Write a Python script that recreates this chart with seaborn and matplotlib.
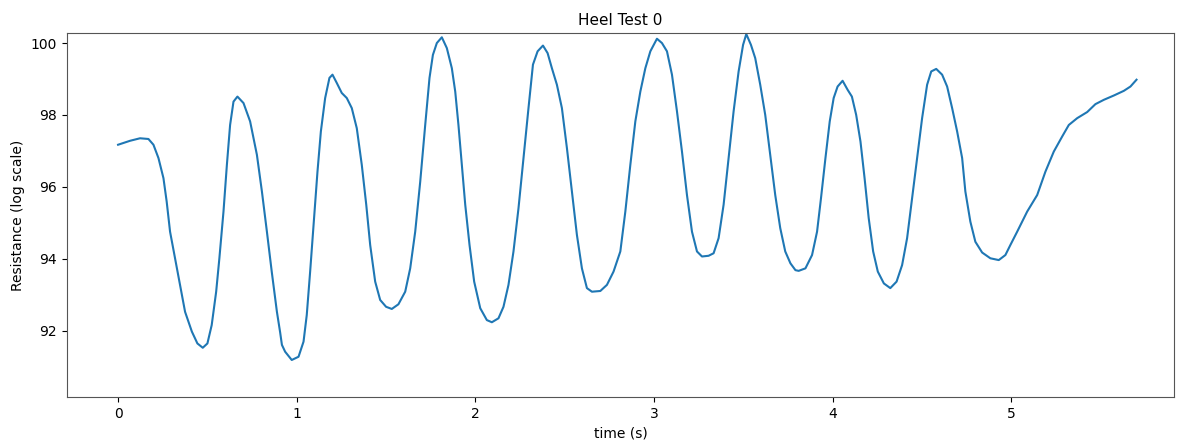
import matplotlib
matplotlib.use("Agg")
import matplotlib.pyplot as plt
import seaborn as sns
import pandas as pd

title = "Heel Test 0"
x_label = "time (s)"
y_label = "Resistance (log scale)"

time_s = [
    0.000, 0.067, 0.123, 0.170, 0.198, 0.226, 0.254, 0.272, 0.291, 0.319,
    0.347, 0.375, 0.413, 0.444, 0.474, 0.500, 0.524, 0.549, 0.567, 0.590,
    0.609, 0.627, 0.646, 0.668, 0.702, 0.739, 0.777, 0.805, 0.833, 0.860,
    0.889, 0.907, 0.917, 0.935, 0.972, 1.010, 1.038, 1.056, 1.075, 1.094,
    1.116, 1.135, 1.159, 1.183, 1.200, 1.224, 1.252, 1.280, 1.308, 1.336,
    1.364, 1.389, 1.411, 1.439, 1.467, 1.500, 1.532, 1.569, 1.607, 1.635,
    1.663, 1.691, 1.719, 1.743, 1.762, 1.784, 1.812, 1.840, 1.868, 1.887,
    1.905, 1.924, 1.943, 1.967, 1.993, 2.027, 2.064, 2.092, 2.129, 2.157,
    2.185, 2.213, 2.241, 2.269, 2.297, 2.322, 2.348, 2.378, 2.404, 2.428,
    2.456, 2.484, 2.512, 2.540, 2.568, 2.596, 2.624, 2.652, 2.699, 2.736,
    2.773, 2.811, 2.839, 2.867, 2.895, 2.923, 2.951, 2.979, 3.016, 3.044,
    3.072, 3.100, 3.128, 3.156, 3.184, 3.212, 3.240, 3.268, 3.305, 3.333,
    3.361, 3.389, 3.417, 3.445, 3.473, 3.498, 3.516, 3.542, 3.566, 3.594,
    3.622, 3.650, 3.678, 3.706, 3.734, 3.763, 3.791, 3.809, 3.847, 3.884,
    3.912, 3.934, 3.959, 3.983, 4.005, 4.027, 4.055, 4.083, 4.107, 4.131,
    4.155, 4.178, 4.201, 4.226, 4.252, 4.286, 4.322, 4.357, 4.388, 4.416,
    4.444, 4.472, 4.500, 4.528, 4.551, 4.579, 4.612, 4.640, 4.668, 4.696,
    4.724, 4.742, 4.770, 4.798, 4.836, 4.882, 4.929, 4.966, 4.994, 5.032,
    5.088, 5.144, 5.190, 5.237, 5.284, 5.321, 5.368, 5.424, 5.470, 5.517,
    5.573, 5.629, 5.666, 5.700,
]

resistance = [
    97.17, 97.28, 97.35, 97.33, 97.17, 96.80, 96.24, 95.59, 94.75, 94.01,
    93.27, 92.52, 91.97, 91.64, 91.52, 91.64, 92.15, 93.08, 94.01, 95.31,
    96.61, 97.72, 98.37, 98.51, 98.33, 97.82, 96.89, 95.87, 94.75, 93.64,
    92.52, 91.95, 91.60, 91.41, 91.18, 91.27, 91.69, 92.43, 93.64, 94.94,
    96.42, 97.54, 98.47, 99.03, 99.12, 98.89, 98.61, 98.47, 98.19, 97.63,
    96.61, 95.50, 94.38, 93.36, 92.85, 92.66, 92.60, 92.73, 93.08, 93.73,
    94.75, 96.14, 97.72, 99.03, 99.67, 100.00, 100.16, 99.86, 99.30, 98.65,
    97.72, 96.61, 95.50, 94.38, 93.36, 92.62, 92.29, 92.23, 92.34, 92.66,
    93.27, 94.20, 95.40, 96.80, 98.19, 99.40, 99.77, 99.93, 99.72, 99.30,
    98.84, 98.19, 97.08, 95.87, 94.66, 93.73, 93.18, 93.08, 93.10, 93.27,
    93.64, 94.20, 95.31, 96.61, 97.82, 98.65, 99.30, 99.77, 100.12, 100.00,
    99.77, 99.12, 98.10, 96.98, 95.77, 94.75, 94.20, 94.06, 94.08, 94.15,
    94.57, 95.50, 96.80, 98.10, 99.21, 99.95, 100.25, 99.95, 99.58, 98.84,
    98.00, 96.89, 95.77, 94.85, 94.20, 93.87, 93.68, 93.66, 93.73, 94.10,
    94.75, 95.68, 96.80, 97.82, 98.47, 98.79, 98.95, 98.70, 98.51, 98.00,
    97.26, 96.24, 95.13, 94.20, 93.64, 93.31, 93.18, 93.36, 93.82, 94.57,
    95.68, 96.80, 97.91, 98.84, 99.21, 99.28, 99.12, 98.79, 98.19, 97.54,
    96.80, 95.87, 95.03, 94.47, 94.17, 94.01, 93.96, 94.10, 94.38, 94.75,
    95.31, 95.77, 96.42, 96.98, 97.40, 97.72, 97.91, 98.08, 98.30, 98.42,
    98.54, 98.67, 98.79, 98.98,
]

x_ticks = [0, 1, 2, 3, 4, 5]
y_ticks = [92, 94, 96, 98, 100]

df = pd.DataFrame({"t": time_s, "r": resistance})

fig = plt.figure(figsize=(11.79, 4.41), dpi=100)
ax = fig.add_axes([0.0568, 0.0998, 0.939, 0.8254])
sns.lineplot(data=df, x="t", y="r", ax=ax, color="#1f77b4", linewidth=1.5)

ax.set_xlim(-0.286, 5.91)
ax.set_ylim(90.15, 100.28)
ax.set_xticks(x_ticks)
ax.set_yticks(y_ticks)
ax.set_xlabel(x_label, fontsize=10)
ax.set_ylabel(y_label, fontsize=10)
ax.set_title(title, fontsize=11)
ax.tick_params(labelsize=10)
for s in ax.spines.values():
    s.set_color("#555555")

fig.savefig("out.png", dpi=100)
